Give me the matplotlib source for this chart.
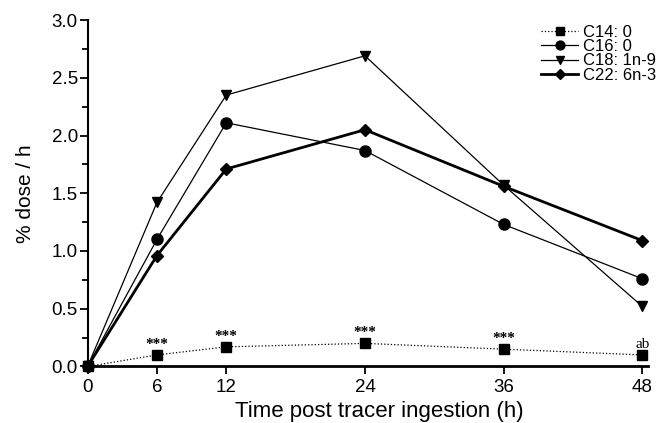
import matplotlib
matplotlib.use('Agg')
import matplotlib.pyplot as plt
from matplotlib.ticker import MultipleLocator

plt.rcParams['font.family'] = ['Liberation Sans', 'DejaVu Sans']

hours = [0, 6, 12, 24, 36, 48]
c14 = [0, 0.10, 0.17, 0.20, 0.15, 0.10]
c16 = [0, 1.10, 2.11, 1.87, 1.23, 0.76]
c18 = [0, 1.42, 2.35, 2.69, 1.57, 0.52]
c22 = [0, 0.96, 1.71, 2.05, 1.56, 1.09]
sig_marks = ['***', '***', '***', '***', 'ab']

fig = plt.figure(figsize=(6.6, 4.23), dpi=100)
ax = fig.add_axes([0.1327, 0.1336, 0.8493, 0.8191])

ax.plot(hours, c14, ls=':', lw=0.9, color='black', marker='s', ms=7, label='C14: 0', clip_on=False)
ax.plot(hours, c16, ls='-', lw=0.9, color='black', marker='o', ms=8, label='C16: 0', clip_on=False)
ax.plot(hours, c18, ls='-', lw=0.9, color='black', marker='v', ms=7.5, label='C18: 1n-9', clip_on=False)
ax.plot(hours, c22, ls='-', lw=2.0, color='black', marker='D', ms=6, label='C22: 6n-3', clip_on=False)

for h, v, s in zip(hours[1:], c14[1:], sig_marks):
    ax.annotate(s, (h, v), xytext=(0, 3), textcoords='offset points',
                ha='center', va='bottom', fontsize=11,
                weight='normal' if s == 'ab' else 'bold',
                family='Liberation Serif')

ax.set_xlim(0, 48.5)
ax.set_ylim(0, 3.0)
ax.set_xticks(hours)
ax.yaxis.set_major_locator(MultipleLocator(0.5))
ax.yaxis.set_minor_locator(MultipleLocator(0.25))
ax.set_yticklabels(['%.1f' % t for t in ax.get_yticks()])

ax.spines['top'].set_visible(False)
ax.spines['right'].set_visible(False)
ax.spines['left'].set_linewidth(1.5)
ax.spines['bottom'].set_linewidth(2.0)
ax.tick_params(axis='both', which='major', direction='out', length=6, width=1.3, labelsize=13.5, pad=1)
ax.tick_params(axis='x', which='major', pad=3)
ax.tick_params(axis='y', which='minor', direction='out', length=4, width=1.3)

ax.set_xlabel('Time post tracer ingestion (h)', fontsize=16)
ax.xaxis.set_label_coords(0.52, -0.1)
ax.set_ylabel('% dose / h', fontsize=15, labelpad=12)

ax.legend(loc='upper right', bbox_to_anchor=(1.035, 1.019), frameon=False, fontsize=12,
          handlelength=2.2, handletextpad=0.3, labelspacing=-0.05, borderaxespad=0.3,
          markerscale=0.8)

fig.savefig('out.png', dpi=100)
